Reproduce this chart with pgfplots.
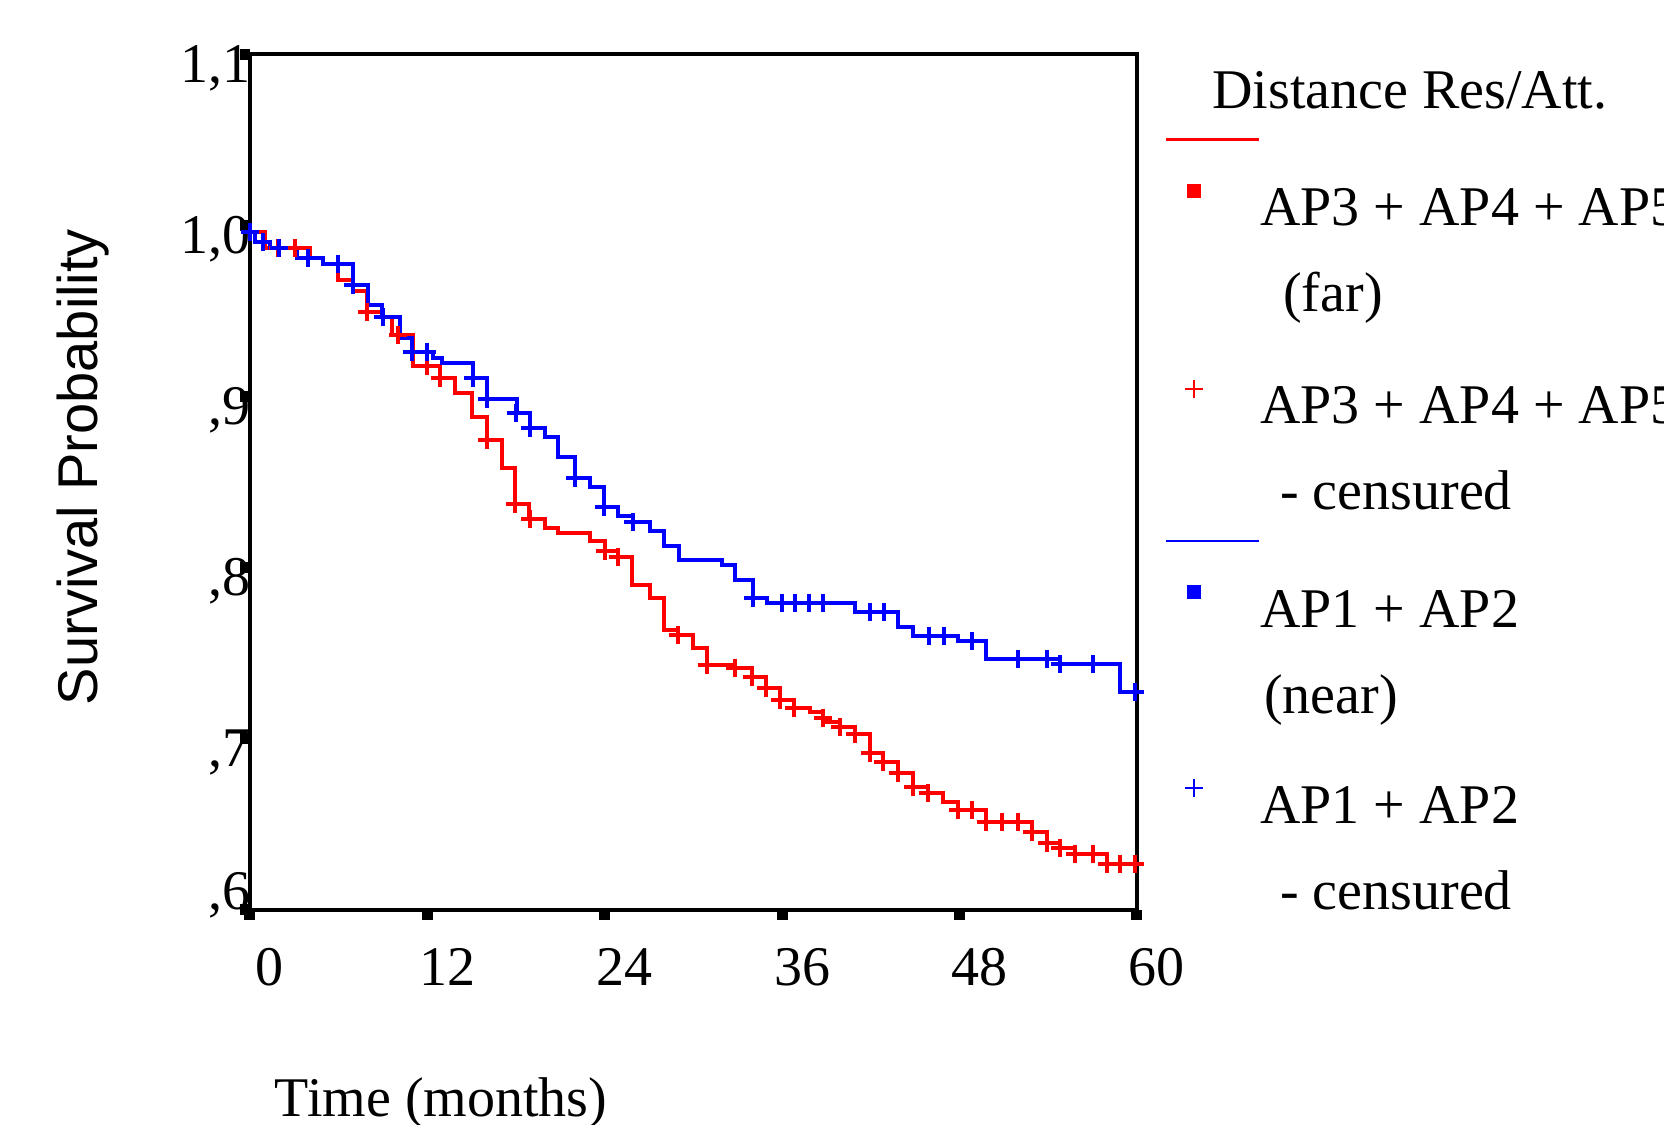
\documentclass[border=0pt]{standalone}
\usepackage{fontspec}
\setmainfont{Liberation Serif}
\newfontfamily\arialfont{Liberation Sans}
\usepackage{pgfplots}
\pgfplotsset{compat=1.18}

% legend keys: a plain line row, and a single mark set near the top of the text
\pgfplotsset{
  legline/.style={legend image code/.code={%
    \draw[##1] (0pt,0pt) -- (23.25pt,0pt);
    \path (0pt,3.5pt) (0pt,-9.25pt);}},
  legmark/.style={legend image code/.code={%
    \draw[##1] plot coordinates {(7pt,-3.25pt)};}},
}

\begin{document}
\begin{tikzpicture}
\begin{axis}[
  at={(0pt,0pt)}, anchor=south west,
  scale only axis, width=221.75pt, height=214pt,
  xmin=0, xmax=60, ymin=0.6, ymax=1.1,
  xtick={0,12,24,36,48,60}, xticklabels={0,12,24,36,48,60},
  ytick={0.6,0.7,0.8,0.9,1.0,1.1},
  yticklabels={{\raisebox{7pt}{,6}},{,7},{,8},{,9},{1,0},{1,1}},
  xtick pos=left, ytick pos=left,
  tick align=outside, major tick length=2.5pt,
  major tick style={line width=2.75pt, black},
  axis line style={line width=0.85pt, black},
  tick label style={font=\fontsize{14}{16}\selectfont, inner sep=0pt},
  xticklabel style={anchor=base, xshift=5pt, yshift=-16.5pt},
  yticklabel style={anchor=base east, xshift=2.75pt, yshift=-7pt},
  xlabel={Time (months)},
  xlabel style={at={(axis description cs:0.0271,-0.2418)}, anchor=base west,
    font=\fontsize{14}{16}\selectfont, inner sep=0pt},
  ylabel={\arialfont Survival Probability},
  ylabel style={at={(axis description cs:-0.1714,0.5175)}, anchor=base,
    font=\fontsize{14}{16}\selectfont, inner sep=0pt},
  legend style={at={(axis description cs:1.0315,0.9925)}, anchor=north west,
    draw=none, fill=none, inner sep=0pt, outer sep=0pt,
    row sep=0pt, column sep=0pt,
    font=\fontsize{14}{21.5}\selectfont,
    nodes={inner sep=0pt, text depth=, anchor=north west, align=left},
    cells={anchor=north west, align=left}},
]
% red: AP3 + AP4 + AP5 (far)
\addplot[red, line width=0.9pt, const plot, forget plot] coordinates {
 (0,0.9960) (1.0,0.9867) (4.06,0.9808) (4.94,0.9773) (5.95,0.9680) (6.97,0.9616)
 (7.91,0.9493) (8.93,0.9464) (9.6,0.9359) (11.03,0.9178) (12.85,0.9107) (13.87,0.9020)
 (15.02,0.8880) (16.03,0.8745) (17.05,0.8582) (17.93,0.8371) (18.87,0.8284) (19.96,0.8231)
 (20.83,0.8202) (23.00,0.8155) (24.01,0.8097) (24.89,0.8062) (25.84,0.7898) (27.06,0.7822)
 (28.00,0.7636) (28.95,0.7606) (29.97,0.7530) (30.91,0.7431) (32.81,0.7414) (33.96,0.7361)
 (34.91,0.7297) (35.85,0.7227) (36.80,0.7180) (37.88,0.7157) (38.76,0.7121) (39.03,0.7098)
 (39.91,0.7069) (40.93,0.7028) (41.94,0.6917) (42.82,0.6864) (43.83,0.6800) (44.85,0.6718)
 (45.86,0.6683) (46.88,0.6631) (47.89,0.6584) (49.79,0.6514) (52.90,0.6456) (53.91,0.6391)
 (54.79,0.6362) (55.81,0.6327) (57.97,0.6269) (60,0.6269)};
\addplot[red, only marks, mark=+, mark size=2.3pt, line width=0.9pt, forget plot] coordinates {
 (1.89,0.9867) (3.04,0.9867) (7.91,0.9493) (10.0,0.9359) (11.97,0.9178) (12.85,0.9107)
 (16.03,0.8745) (17.93,0.8371) (18.94,0.8284) (24.0,0.8097) (24.89,0.8062) (28.95,0.7606)
 (30.91,0.7431) (32.81,0.7414) (33.96,0.7361) (34.91,0.7297) (35.85,0.7227) (36.80,0.7180)
 (38.76,0.7121) (39.91,0.7069) (40.93,0.7028) (41.94,0.6917) (42.82,0.6864) (43.83,0.6800)
 (44.85,0.6718) (45.86,0.6683) (47.89,0.6584) (48.84,0.6584) (49.79,0.6514) (50.87,0.6514)
 (51.95,0.6514) (52.90,0.6456) (53.91,0.6391) (54.79,0.6362) (55.81,0.6327) (57.02,0.6327)
 (57.97,0.6269) (58.85,0.6269) (59.87,0.6269)};
% blue: AP1 + AP2 (near)
\addplot[blue, line width=0.9pt, const plot, forget plot] coordinates {
 (0,0.9960) (0.34,0.9902) (1.35,0.9867) (3.18,0.9808) (4.94,0.9773) (6.97,0.9651)
 (7.98,0.9534) (8.93,0.9464) (10.15,0.9341) (10.96,0.9259) (12.38,0.9224) (12.99,0.9195)
 (15.08,0.9107) (16.03,0.8985) (18.06,0.8903) (18.94,0.8815) (19.96,0.8763) (20.83,0.8646)
 (21.98,0.8523) (23.00,0.8471) (23.95,0.8354) (24.89,0.8301) (25.91,0.8266) (27.06,0.8214)
 (28.00,0.8126) (29.02,0.8044) (31.93,0.8015) (32.81,0.7928) (34.03,0.7822) (34.97,0.7793)
 (40.93,0.7741) (43.83,0.7653) (44.85,0.7600) (47.89,0.7571) (49.79,0.7466) (54.79,0.7437)
 (58.85,0.7273) (60,0.7273)};
\addplot[blue, only marks, mark=+, mark size=2.3pt, line width=0.9pt, forget plot] coordinates {
 (0,0.9960) (0.88,0.9902) (1.96,0.9867) (3.92,0.9808) (5.95,0.9773) (6.97,0.9651)
 (9.00,0.9464) (10.96,0.9259) (11.97,0.9259) (15.08,0.9107) (16.03,0.8985) (18.0,0.8903)
 (18.94,0.8815) (21.98,0.8523) (23.95,0.8354) (25.9,0.8266) (34.03,0.7822) (35.99,0.7793)
 (36.87,0.7793) (37.81,0.7793) (38.76,0.7793) (41.94,0.7741) (42.89,0.7741) (45.93,0.7600)
 (46.95,0.7600) (48.84,0.7571) (51.95,0.7466) (53.91,0.7466) (54.79,0.7437) (57.02,0.7437)
 (59.87,0.7273)};

\addlegendimage{empty legend}
\addlegendentry{\hspace*{-12pt}\rule{0pt}{12pt}Distance Res/Att.\rule[-4pt]{0pt}{4pt}}
\addlegendimage{red, line width=0.6pt, legline}
\addlegendentry{\rule{0pt}{0pt}}
\addlegendimage{red, only marks, mark=square*, mark size=1.5pt, legmark}
\addlegendentry{\rule{0pt}{12pt}AP3 + AP4 + AP5\\\hspace*{5.75pt}(far)\rule[-16pt]{0pt}{16pt}}
\addlegendimage{red, only marks, mark=+, mark size=2.25pt, line width=0.4pt, legmark}
\addlegendentry{\rule{0pt}{12pt}AP3 + AP4 + AP5\\\hspace*{5pt}- censured\rule[-4pt]{0pt}{4pt}}
\addlegendimage{blue, line width=0.6pt, legline}
\addlegendentry{\rule{0pt}{0pt}}
\addlegendimage{blue, only marks, mark=square*, mark size=1.5pt, legmark}
\addlegendentry{\rule{0pt}{12pt}AP1 + AP2\\\hspace*{1pt}(near)\rule[-15.5pt]{0pt}{15.5pt}}
\addlegendimage{blue, only marks, mark=+, mark size=2.25pt, line width=0.4pt, legmark}
\addlegendentry{\rule{0pt}{12pt}AP1 + AP2\\\hspace*{5pt}- censured\rule[-4pt]{0pt}{4pt}}
\end{axis}
\pgfresetboundingbox
\useasboundingbox (-62.5pt,-53.75pt) rectangle (353.5pt,227.5pt);
\end{tikzpicture}
\end{document}
